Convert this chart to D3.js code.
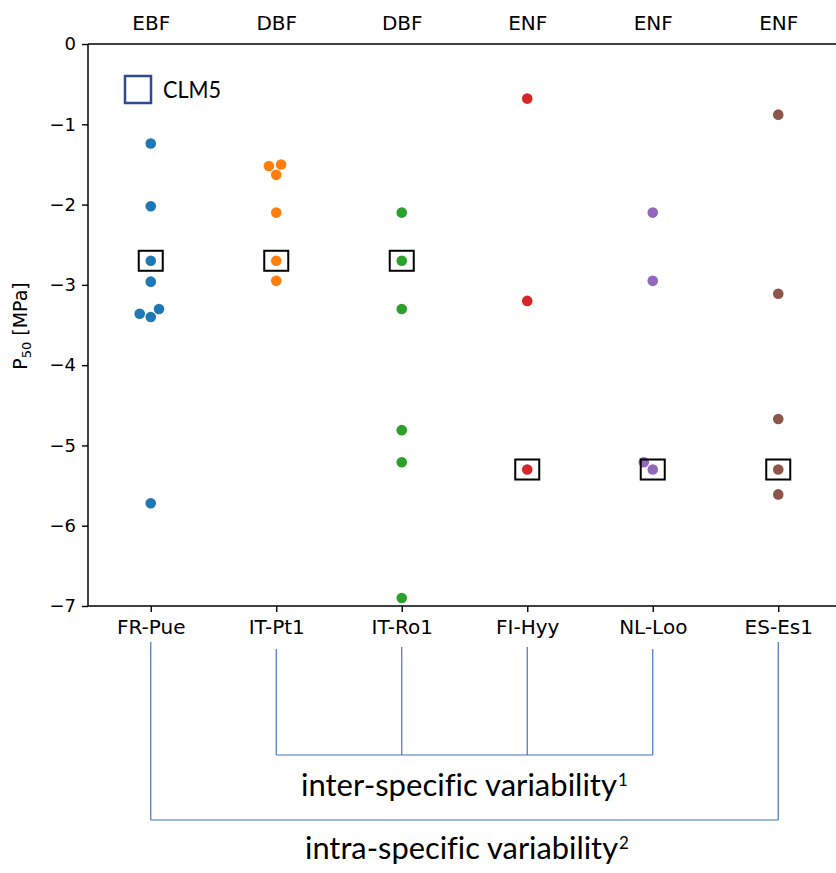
<!DOCTYPE html>
<html>
<head>
<meta charset="utf-8">
<script src="https://cdn.jsdelivr.net/npm/d3@7"></script>
<style>
    body { margin: 0; background: #fff; }
    svg text { fill: #000; font-variant-ligatures: none; }
</style>
</head>
<body>
<div id="chart"></div>
<script>
// site names along the bottom, plant functional type along the top
const sites = ["FR-Pue", "IT-Pt1", "IT-Ro1", "FI-Hyy", "NL-Loo", "ES-Es1"];
const pfts = ["EBF", "DBF", "DBF", "ENF", "ENF", "ENF"];

// observed P50 values [MPa] per site
const p50 = [
    [-1.24, -2.02, -2.70, -2.96, -3.30, -3.36, -3.40, -5.72],
    [-1.52, -1.50, -1.63, -2.10, -2.70, -2.95],
    [-2.10, -2.70, -3.30, -4.81, -5.21, -6.90],
    [-0.68, -3.20, -5.30],
    [-2.10, -2.95, -5.21, -5.30],
    [-0.88, -3.11, -4.67, -5.30, -5.61]
];

// CLM5 parameter value per site
const clm5 = [-2.7, -2.7, -2.7, -5.3, -5.3, -5.3];

const yTicks = [0, -1, -2, -3, -4, -5, -6, -7];

// bracket groups under the plot
const interSites = ["IT-Pt1", "IT-Ro1", "FI-Hyy", "NL-Loo"];
const intraSites = ["FR-Pue", "ES-Es1"];

const W = 836, H = 873;
const plotL = 88, plotR = 841, plotT = 44, plotB = 606;
const colors = d3.schemeCategory10;
const r = 5.3;

const svg = d3.select("#chart").append("svg")
    .attr("width", W)
    .attr("height", H)
    .style("font-family", "'DejaVu Sans', sans-serif");

const x = d3.scalePoint()
    .domain(sites)
    .range([plotL, plotR])
    .padding(0.5);

const y = d3.scaleLinear()
    .domain([-7, 0])
    .range([plotB, plotT]);

// simple beeswarm, lowest value placed first, closest to centre wins
function swarm(values, diam) {
    const order = values.map((v, i) => i).sort((a, b) => values[a] - values[b]);
    const placed = [];
    const out = new Array(values.length);
    order.forEach(i => {
        const py = y(values[i]);
        const cands = [0];
        placed.forEach(p => {
            const dy = Math.abs(p.y - py);
            if (dy < diam) {
                const dx = Math.sqrt(diam * diam - dy * dy);
                cands.push(p.x - dx, p.x + dx);
            }
        });
        cands.sort((a, b) => Math.abs(a) - Math.abs(b) || a - b);
        let best = cands.find(c => placed.every(p => Math.hypot(p.x - c, p.y - py) >= diam - 0.01));
        if (best === undefined) best = 0;
        placed.push({ x: best, y: py });
        out[i] = { dx: best, y: py };
    });
    return out;
}

// axes
const yAxis = svg.append("g")
    .attr("transform", `translate(${plotL},0)`)
    .call(d3.axisLeft(y).tickValues(yTicks).tickSize(6).tickPadding(6)
        .tickFormat(d => d === 0 ? "0" : "\u2212" + Math.abs(d)));

const xAxis = svg.append("g")
    .attr("transform", `translate(0,${plotB})`)
    .call(d3.axisBottom(x).tickSize(6).tickPadding(8));

const topAxis = svg.append("g")
    .attr("transform", `translate(0,${plotT})`)
    .call(d3.axisTop(x).tickSize(0).tickPadding(14).tickFormat((d, i) => pfts[i]));

[yAxis, xAxis, topAxis].forEach(g => {
    g.select(".domain").remove();
    g.selectAll("line").attr("stroke", "#000").attr("stroke-width", 1.4);
    g.selectAll("text").attr("font-family", "'DejaVu Sans', sans-serif").attr("fill", "#000");
});
yAxis.selectAll("text").attr("font-size", 18);
xAxis.selectAll("text").attr("font-size", 20);
topAxis.selectAll("text").attr("font-size", 20);

// spines
svg.append("line").attr("x1", plotL).attr("x2", plotL).attr("y1", plotT).attr("y2", plotB)
    .attr("stroke", "#000").attr("stroke-width", 1.5);
svg.append("line").attr("x1", plotL).attr("x2", plotR).attr("y1", plotB).attr("y2", plotB)
    .attr("stroke", "#000").attr("stroke-width", 1.5);
svg.append("line").attr("x1", plotL).attr("x2", plotR).attr("y1", plotT).attr("y2", plotT)
    .attr("stroke", "#000").attr("stroke-width", 1.5);

// y label with subscript
const ylab = svg.append("text")
    .attr("transform", "translate(27,326) rotate(-90)")
    .attr("text-anchor", "middle")
    .attr("font-size", 19);
ylab.append("tspan").text("P");
ylab.append("tspan").attr("font-size", 13).attr("dy", 4).text("50");
ylab.append("tspan").attr("dy", -4).text(" [MPa]");

// points
sites.forEach((s, i) => {
    const pos = swarm(p50[i], 11.5);
    svg.append("g")
        .selectAll("circle")
        .data(p50[i])
        .join("circle")
        .attr("cx", (d, j) => x(s) + pos[j].dx)
        .attr("cy", (d, j) => pos[j].y)
        .attr("r", r)
        .attr("fill", colors[i]);
});

// CLM5 boxes
svg.append("g")
    .selectAll("rect")
    .data(clm5)
    .join("rect")
    .attr("x", (d, i) => x(sites[i]) - 12)
    .attr("y", d => y(d) - 10)
    .attr("width", 24)
    .attr("height", 20)
    .attr("fill", "none")
    .attr("stroke", "#000")
    .attr("stroke-width", 2);

// legend
svg.append("rect")
    .attr("x", 125).attr("y", 76).attr("width", 26).attr("height", 27)
    .attr("fill", "none").attr("stroke", "#2f4b8c").attr("stroke-width", 2.5);
svg.append("text")
    .attr("x", 163).attr("y", 98)
    .attr("font-family", "Lato, sans-serif")
    .attr("font-size", 23)
    .attr("textLength", 58)
    .attr("lengthAdjust", "spacingAndGlyphs")
    .text("CLM5");

// brackets
const blue = "#4472c4";
const br = svg.append("g").attr("stroke", blue).attr("stroke-width", 1.2).attr("fill", "none");
const interY = 755, intraY = 820;
interSites.forEach((s, i) => {
    const edge = i === 0 || i === interSites.length - 1;
    br.append("line").attr("x1", x(s)).attr("x2", x(s))
        .attr("y1", edge ? 649 : 647).attr("y2", interY);
});
br.append("line")
    .attr("x1", x(interSites[0])).attr("x2", x(interSites[interSites.length - 1]))
    .attr("y1", interY).attr("y2", interY);
intraSites.forEach(s => {
    br.append("line").attr("x1", x(s)).attr("x2", x(s)).attr("y1", 642).attr("y2", intraY);
});
br.append("line")
    .attr("x1", x(intraSites[0])).attr("x2", x(intraSites[1]))
    .attr("y1", intraY).attr("y2", intraY);

function bracketLabel(txt, sup, x0, x1, base) {
    svg.append("text")
        .attr("x", x0).attr("y", base)
        .attr("font-family", "Lato, sans-serif")
        .attr("font-size", 30)
        .attr("textLength", x1 - x0)
        .attr("lengthAdjust", "spacingAndGlyphs")
        .text(txt);
    svg.append("text")
        .attr("x", x1 + 1).attr("y", base - 10)
        .attr("font-family", "Lato, sans-serif")
        .attr("font-size", 17)
        .text(sup);
}
bracketLabel("inter-specific variability", "1", 301, 617, 796);
bracketLabel("intra-specific variability", "2", 305, 618, 859);
</script>
</body>
</html>
